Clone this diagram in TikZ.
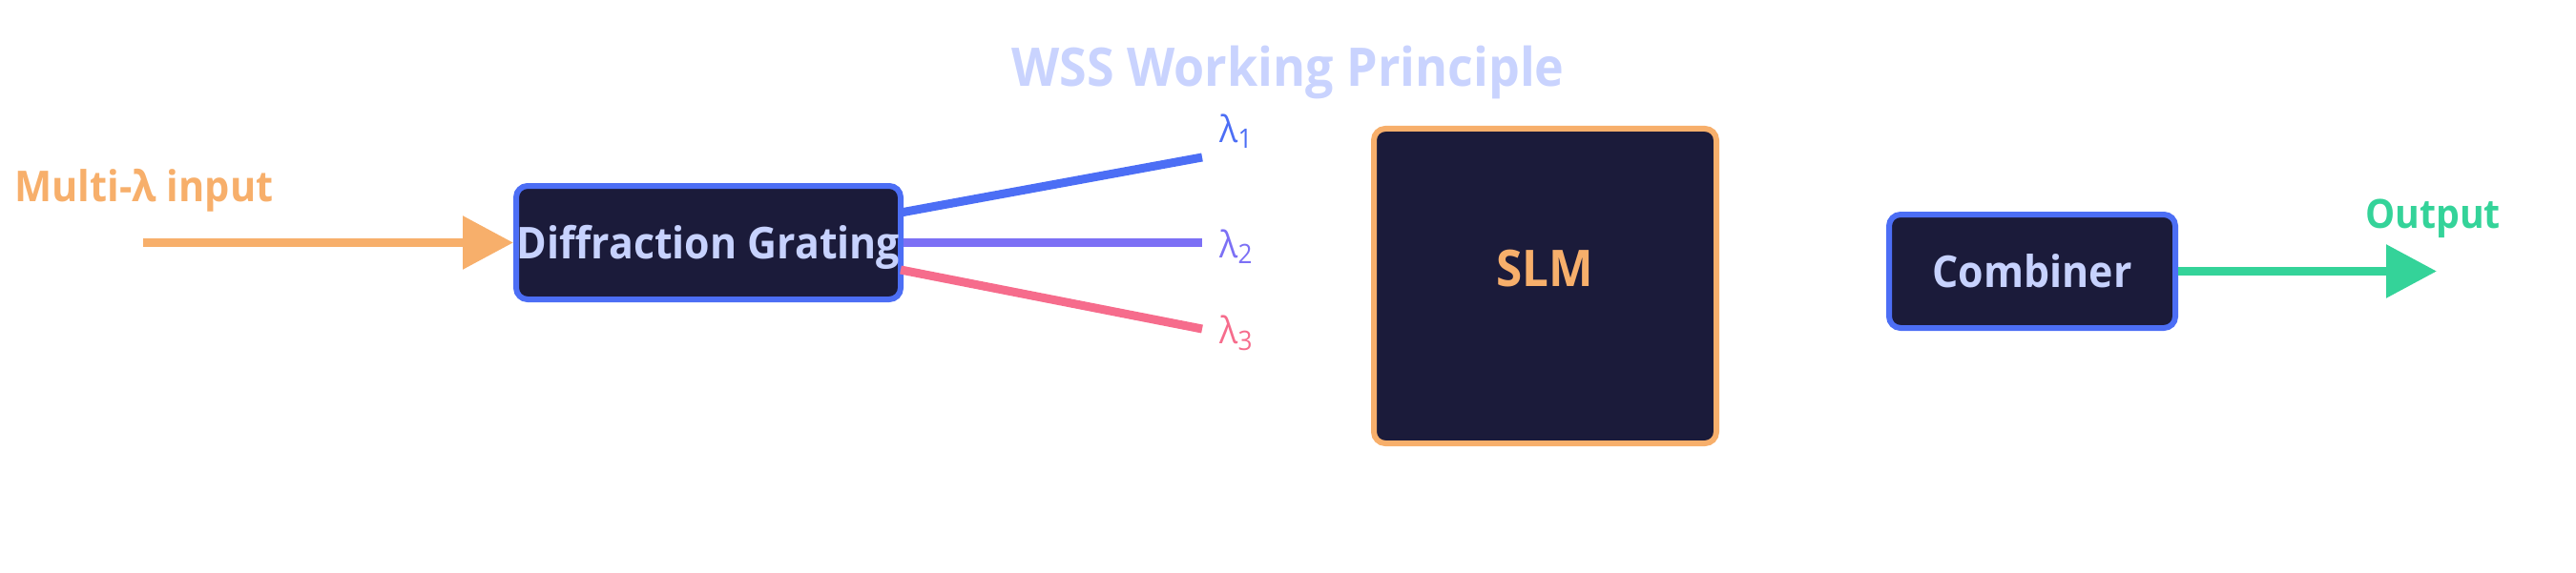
\documentclass[tikz,border=0pt]{standalone}
\usepackage{fontspec}
\setmainfont{Open Sans}[FakeStretch=0.93]
\usetikzlibrary{arrows.meta}
\definecolor{boxfill}{HTML}{1B1B3A}
\definecolor{edgeblue}{HTML}{4C6EF5}
\definecolor{boxtext}{HTML}{C7D2FE}
\definecolor{titlecol}{HTML}{C9D3FE}
\definecolor{inorange}{HTML}{F7AF6B}
\definecolor{outgreen}{HTML}{34D399}
\definecolor{lampurple}{HTML}{7C70F5}
\definecolor{lampink}{HTML}{F66C8C}
\newcommand{\lamsub}[1]{λ\raisebox{-0.07cm}{\fontsize{8}{9}\selectfont #1}}
\begin{document}
\begin{tikzpicture}[
    box/.style={draw=edgeblue,fill=boxfill,line width=0.06cm,rounded corners=0.12cm,
      text=boxtext,font=\bfseries\fontsize{13.1}{15}\selectfont,inner sep=0pt,
      text height=0.33cm,text depth=0pt},
    beam/.style={line width=0.09cm},
    ray/.style={beam,-{Triangle[length=0.53cm,width=0.54cm]}},
    lam/.style={anchor=base west,font=\fontsize{11}{13}\selectfont}]
  \useasboundingbox (0,0) rectangle (27,6);
  \node[anchor=base,text=titlecol,font=\bfseries\fontsize{15.9}{18}\selectfont] (title) at (13.50,5.09) {WSS Working Principle};
  % source and grating
  \node[anchor=base,text=inorange,font=\bfseries\fontsize{12.7}{15}\selectfont] (inlabel) at (1.51,3.89) {Multi-λ input};
  \coordinate (in) at (1.50,3.455);
  \node[box,minimum width=4.03cm,minimum height=1.19cm] (grating) at (7.425,3.455) {Diffraction Grating};
  \draw[ray,inorange] (in) -- (grating.west);
  % split wavelengths
  \coordinate (g1) at (9.44,3.77);
  \coordinate (g3) at (9.44,3.17);
  \coordinate (l1) at (12.60,4.35);
  \coordinate (l2) at (12.60,3.455);
  \coordinate (l3) at (12.60,2.55);
  \draw[beam,edgeblue] (g1) -- (l1);
  \draw[beam,lampurple] (grating.east) -- (l2);
  \draw[beam,lampink] (g3) -- (l3);
  \node[lam,text=edgeblue] (lab1) at (12.66,4.51) {\lamsub{1}};
  \node[lam,text=lampurple] (lab2) at (12.66,3.30) {\lamsub{2}};
  \node[lam,text=lampink] (lab3) at (12.66,2.40) {\lamsub{3}};
  % modulator
  \node[box,draw=inorange,text=inorange,font=\bfseries\fontsize{15.1}{18}\selectfont,
    minimum width=3.59cm,minimum height=3.30cm,text height=0.38cm,text depth=0.38cm] (slm) at (16.195,3.00) {SLM};
  % combiner and output
  \node[box,minimum width=3.00cm,minimum height=1.19cm] (comb) at (21.30,3.155) {Combiner};
  \coordinate (out) at (25.54,3.155);
  \draw[ray,outgreen] (comb.east) -- (out);
  \node[anchor=base,text=outgreen,font=\bfseries\fontsize{12.0}{14}\selectfont] (outlabel) at (25.50,3.60) {Output};
\end{tikzpicture}
\end{document}
